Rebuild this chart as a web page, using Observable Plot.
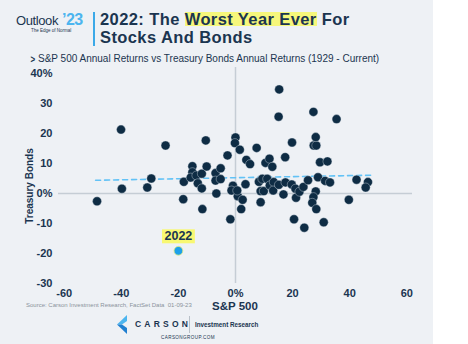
<!DOCTYPE html>
<html><head><meta charset="utf-8">
<script src="https://cdn.jsdelivr.net/npm/d3@7"></script>
<script src="https://cdn.jsdelivr.net/npm/@observablehq/plot@0.6"></script>
<style>
html,body{margin:0;padding:0;background:#fff;}
#page{position:relative;width:468px;height:344px;overflow:hidden;font-family:"Liberation Sans",Arial,sans-serif;color:#1b3550;}
#bg{position:absolute;left:0;top:0;width:433px;height:344px;background:#eef1f5;}
#chart{position:absolute;left:0;top:60px;}
.abs{position:absolute;white-space:nowrap;line-height:1;}
#logo1{left:16px;top:14px;font-size:13px;letter-spacing:-0.4px;}
#logo2{left:62px;top:12px;color:#4cb5ef;font-size:16px;font-weight:bold;letter-spacing:-0.5px;}
#logo3{left:31px;top:29px;font-size:4.5px;}
#vbar{left:93px;top:12px;width:1.5px;height:34px;background:#3ba9e8;}
#t1{left:100px;top:10.5px;font-size:16.5px;font-weight:bold;letter-spacing:0.4px;}
#t2{left:100px;top:29px;font-size:16.5px;font-weight:bold;letter-spacing:0.4px;}
#t1 .hl{background:linear-gradient(to bottom,transparent 12%,#f6f77b 12%,#f6f77b 88%,transparent 88%);}
#chev{left:30px;top:55px;font-size:10px;font-weight:bold;transform:scaleX(0.8);}
#sub{left:38px;top:54px;font-size:10px;}
#ylab{left:30px;top:186px;font-family:"Liberation Sans Narrow","Arial Narrow",sans-serif;font-weight:bold;font-size:10px;transform:translate(-50%,-50%) rotate(-90deg);}
#xlab{left:235px;top:307px;transform:translate(-50%,-50%);font-family:"Liberation Sans Narrow","Arial Narrow",sans-serif;font-weight:bold;font-size:11.5px;}
#src{left:26px;top:302px;font-size:6px;color:#8a939c;}
#carson{left:135px;top:320px;font-size:8.5px;letter-spacing:3.2px;font-weight:bold;color:#1b3550;}
#div2{left:189px;top:316px;width:1px;height:17px;background:#b8c0c8;}
#ir{left:195px;top:322px;font-size:6.3px;font-weight:bold;}
#web{left:161px;top:336px;font-size:4.6px;letter-spacing:0.4px;}
#icon{left:117px;top:315px;}
</style></head>
<body>
<div id="page">
<div id="bg"></div>
<div class="abs" id="logo1">Outlook</div>
<div class="abs" id="logo2">’23</div>
<div class="abs" id="logo3">The Edge of Normal</div>
<div class="abs" id="vbar"></div>
<div class="abs" id="t1">2022: The <span class="hl">Worst Year Ever</span> For</div>
<div class="abs" id="t2">Stocks And Bonds</div>
<div class="abs" id="chev">&gt;</div>
<div class="abs" id="sub">S&amp;P 500 Annual Returns vs Treasury Bonds Annual Returns (1929 - Current)</div>
<div id="chart"></div>
<div class="abs" id="ylab">Treasury Bonds</div>
<div class="abs" id="xlab">S&amp;P 500</div>
<div class="abs" id="src">Source: Carson Investment Research, FactSet Data&nbsp; 01-09-23</div>
<svg class="abs" id="icon" width="11" height="19" viewBox="0 0 11 19"><polygon points="0,9.5 10,0 10,6 5,9.5" fill="#4cb5ef"/><polygon points="0,9.5 5,9.5 10,13 10,19" fill="#1f7fd0"/></svg>
<div class="abs" id="carson">CARSON</div>
<div class="abs" id="div2"></div>
<div class="abs" id="ir">Investment Research</div>
<div class="abs" id="web">CARSONGROUP.COM</div>
</div>
<script>
// S&P 500 annual return (%) and Treasury bond annual return (%), 1929 - 2021
const sp500 = [-48.5,-40.1,-39.8,-30.9,-29.5,-24.5,-18.3,-18.1,-15.1,-15.1,-15.7,-13.7,-13.2,-11.8,-11.8,-11.6,-10.4,-10.1,-7.0,-7.0,-6.7,-5.2,-5.2,-2.8,-1.8,-0.9,-1.4,0.0,-0.2,1.5,0.8,0.6,2.0,2.5,3.5,3.8,5.1,7.4,8.2,9.4,8.8,9.9,8.8,10.5,11.9,12.9,11.1,12.0,13.4,13.2,15.2,15.3,15.1,17.4,17.5,16.8,19.8,19.7,21.0,21.2,20.5,22.4,23.8,24.1,25.4,27.3,27.4,28.3,28.1,28.9,28.1,27.3,26.9,28.3,29.6,32.2,31.4,33.1,30.9,35.4,39.7,42.4,46.4,45.6];
const bonds = [-2.6,21.3,1.6,2.0,5.0,16.0,-1.9,3.9,9.1,7.1,5.3,6.0,3.4,6.6,1.7,-5.2,17.7,9.0,6.8,4.3,0.0,8.4,4.8,12.7,-8.6,2.6,1.0,18.7,16.8,14.6,-0.9,1.0,-5.2,-2.1,3.1,11.2,9.8,15.2,3.9,4.9,0.8,0.8,-2.9,10.2,11.6,8.9,4.9,2.7,3.8,1.0,2.9,34.7,25.6,12.1,3.7,-0.3,17.0,3.0,1.6,-1.4,-8.6,0.6,2.2,-11.4,4.4,27.2,16.0,16.0,18.8,5.4,0.7,-1.2,-3.1,-5.2,10.4,10.7,4.2,3.7,-9.6,24.8,-2.1,4.6,3.8,2.0];
// highlighted year
const hlYear = ["2022"];
const hlSp500 = [-20.0];
const hlBonds = [-19.1];
// dashed trend line
const trendX = [-49, 48];
const trendY = [4.4, 6.1];
// ticks
const xTicks = [-60,-40,-20,0,20,40,60];
const yTicks = [-30,-20,-10,0,10,20,30,40];

const points = sp500.map((v,i)=>({sp:v, bd:bonds[i]}));
const hl = hlYear.map((t,i)=>({year:t, sp:hlSp500[i], bd:hlBonds[i]}));
const trend = trendX.map((v,i)=>({x:v, y:trendY[i]}));

const narrow = '"Liberation Sans Narrow","Arial Narrow","Liberation Sans",sans-serif';
const chart = Plot.plot({
  width: 433, height: 260,
  marginLeft: 58, marginRight: 21, marginTop: 7, marginBottom: 37,
  style: {background: "transparent", fontFamily: narrow, fontSize: "11px", fontWeight: "bold", color: "#1b3550", overflow: "visible"},
  x: {domain: [-62, 62]},
  y: {domain: [-30, 42]},
  marks: [
    Plot.ruleY([0], {stroke: "#c5cdd5", strokeWidth: 1.5}),
    Plot.ruleX([0], {stroke: "#c5cdd5", strokeWidth: 1.5}),
    Plot.line(trend, {x: "x", y: "y", stroke: "#62c2f6", strokeWidth: 1.6, strokeDasharray: "5,4"}),
    Plot.dot(points, {x: "sp", y: "bd", r: 4.5, fill: "#0e2c44", stroke: "#dce4ea", strokeWidth: 0.4}),
    Plot.dot(hl, {x: "sp", y: "bd", r: 4.4, fill: "#1da1ea", stroke: "#e6ee7a", strokeWidth: 0.8}),
    Plot.text(hl, {x: "sp", y: "bd", text: "year", dy: -15, fontSize: 12.5, fontWeight: "bold", fill: "#1b3550", fontFamily: '"Liberation Sans",Arial,sans-serif'}),
    Plot.axisX({ticks: xTicks, tickSize: 0, tickPadding: 6, tickFormat: d => d === 0 ? "0%" : String(d), label: null}),
    Plot.axisY({ticks: yTicks, tickSize: 0, tickPadding: 6, tickFormat: d => (d === 0 || d === 40) ? d + "%" : String(d), label: null})
  ]
});
document.getElementById("chart").appendChild(chart);
// yellow box behind the 2022 label
chart.querySelectorAll('g[aria-label="text"] text').forEach(t => {
  const bb = t.getBBox();
  const r = document.createElementNS("http://www.w3.org/2000/svg", "rect");
  r.setAttribute("x", bb.x - 2.5); r.setAttribute("y", bb.y + 0.5);
  r.setAttribute("width", bb.width + 5); r.setAttribute("height", bb.height);
  r.setAttribute("fill", "#f8f872");
  if (t.getAttribute("transform")) r.setAttribute("transform", t.getAttribute("transform"));
  t.parentNode.insertBefore(r, t);
});
</script>
</body></html>
